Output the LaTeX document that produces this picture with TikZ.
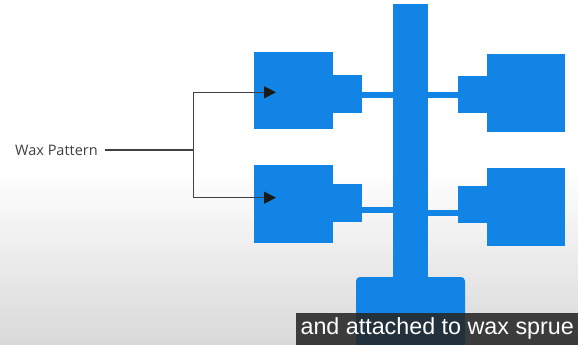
\documentclass[tikz,border=0pt]{standalone}
\usepackage{fontspec}
\setmainfont{Liberation Sans}
\newfontfamily\labelfont{Open Sans}
\usetikzlibrary{arrows.meta}
\definecolor{waxblue}{HTML}{1184E6}
\definecolor{lineg}{HTML}{404040}
\tikzset{
  wax/.style={fill=waxblue, draw=none, inner sep=0pt, outer sep=0pt, anchor=north west},
  bar/.style={draw=waxblue, line width=6pt},
  leader/.style={draw=lineg, line width=1.1pt},
  arr/.style={leader, -{Triangle[length=12pt,width=12pt,color=black!90]}},
}
\begin{document}
\begin{tikzpicture}[x=1pt,y=-1pt]
\useasboundingbox (0,0) rectangle (578,345);
\fill[white] (0,0) rectangle (578,345);
\shade[top color=white, bottom color=black!15] (0,170) rectangle (578,345);
% sprue
\node[wax, minimum width=35pt, minimum height=280pt] (sprue) at (393.3,4) {};
\node[wax, minimum width=109pt, minimum height=75pt, rounded corners=4pt] (base) at (356,277) {};
% left patterns
\node[wax, minimum width=78.7pt, minimum height=77pt] (LT) at (254,52.3) {};
\node[wax, minimum width=29pt, minimum height=37.4pt] (LTt) at (332.7,75.3) {};
\node[wax, minimum width=78.7pt, minimum height=78pt] (LB) at (254,165.3) {};
\node[wax, minimum width=29pt, minimum height=37.4pt] (LBt) at (332.7,184.3) {};
% right patterns
\node[wax, minimum width=78.3pt, minimum height=78pt] (RT) at (486.7,54.3) {};
\node[wax, minimum width=28.4pt, minimum height=37.3pt] (RTt) at (458.3,76) {};
\node[wax, minimum width=78.3pt, minimum height=77.4pt] (RB) at (486.7,168.3) {};
\node[wax, minimum width=28.4pt, minimum height=37pt] (RBt) at (458.3,185.7) {};
% gates
\draw[bar] ([yshift=-0.5pt]LTt.east) -- ([yshift=-0.5pt]LTt.east -| sprue.west);
\draw[bar] ([yshift=-7pt]LBt.east) -- ([yshift=-7pt]LBt.east -| sprue.west);
\draw[bar] ([yshift=-0.6pt]RTt.west) -- ([yshift=-0.6pt]RTt.west -| sprue.east);
\draw[bar] ([yshift=-8.5pt]RBt.west) -- ([yshift=-8.5pt]RBt.west -| sprue.east);
% label and leaders
\node[anchor=west, inner sep=0pt, text=lineg, font=\labelfont\fontsize{14.5}{17}\selectfont] (wp) at (15,150) {Wax Pattern};
\coordinate (j) at (193.3,150);
\coordinate (a1) at (276,92.3);
\coordinate (a2) at (276,197.7);
\draw[leader] (105,150) -- (j);
\draw[arr] (j) |- (a1);
\draw[arr] (j) |- (a2);
% caption
\node[fill=black!85, fill opacity=0.88, text opacity=1, text=white, anchor=north west, minimum width=282pt, minimum height=32pt, inner sep=0pt, font=\fontsize{23.3}{26}\selectfont] (cap) at (296,312.5) {and attached to wax sprue};
\end{tikzpicture}
\end{document}
